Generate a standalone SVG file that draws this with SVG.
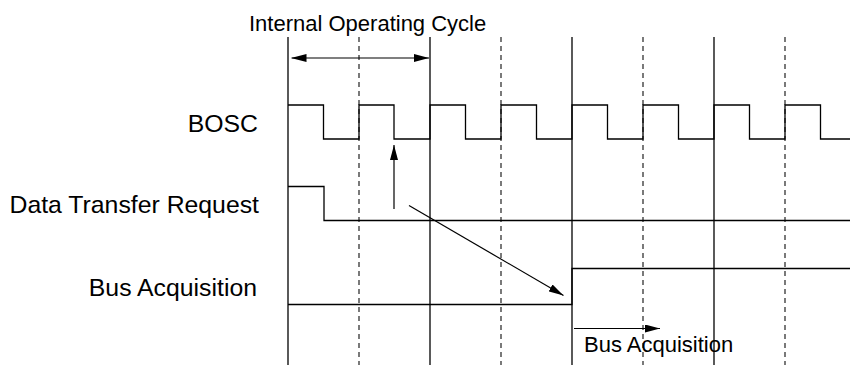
<svg xmlns="http://www.w3.org/2000/svg" width="850" height="365" viewBox="0 0 850 365">
  <style>
    .lbl { font-family: "Liberation Sans", Arial, sans-serif; fill: #000; }
    .big { font-size: 24.8px; text-anchor: end; }
    .small { font-size: 22px; }
    .solid { stroke: #000; stroke-width: 1.3; fill: none; }
    .dash { stroke: #333; stroke-width: 1.3; stroke-dasharray: 5 4; fill: none; }
    .wave { stroke: #000; stroke-width: 1.3; fill: none; }
    .arrow { stroke: #000; stroke-width: 1.2; fill: none; }
  </style>
  <defs>
    <marker id="ah" viewBox="0 0 15 8" refX="15" refY="4" markerWidth="15" markerHeight="8" markerUnits="userSpaceOnUse" orient="auto-start-reverse">
      <path d="M0,0 L15,4 L0,8 z" fill="#000"/>
    </marker>
  </defs>
  <rect width="850" height="365" fill="#fff"/>

  <g id="grid">
    <line class="solid" x1="288" y1="37" x2="288" y2="365"/>
    <line class="solid" x1="430" y1="37" x2="430" y2="365"/>
    <line class="solid" x1="572" y1="37" x2="572" y2="365"/>
    <line class="solid" x1="714" y1="37" x2="714" y2="365"/>
    <line class="dash" x1="359" y1="37" x2="359" y2="365"/>
    <line class="dash" x1="501" y1="37" x2="501" y2="365"/>
    <line class="dash" x1="643" y1="37" x2="643" y2="365"/>
    <line class="dash" x1="785" y1="37" x2="785" y2="365"/>
  </g>

  <g id="cycle">
    <text class="lbl small" x="249" y="31">Internal Operating Cycle</text>
  </g>

  <g id="bosc">
    <text class="lbl big" x="258" y="132">BOSC</text>
    <path class="wave" d="M288,105 H323.5 V139 H359 V105 H394 V139 H430 V105 H465.5 V139 H501 V105 H536.5 V139 H572 V105 H607.5 V139 H643 V105 H678.5 V139 H714 V105 H749.5 V139 H785 V105 H820.5 V139 H850"/>
  </g>

  <g id="dtr">
    <text class="lbl big" x="259" y="213">Data Transfer Request</text>
    <path class="wave" d="M288,186.5 H324 V220.5 H850"/>
  </g>

  <g id="busacq">
    <text class="lbl big" x="257" y="296">Bus Acquisition</text>
    <path class="wave" d="M288,304.5 H572 V268.5 H850"/>
  </g>

  <g id="busacq2">
    <text class="lbl small" x="584" y="352">Bus Acquisition</text>
  </g>

  <g id="connectors">
    <line class="arrow" stroke="#555" x1="291.5" y1="58" x2="429" y2="58" marker-start="url(#ah)" marker-end="url(#ah)"/>
    <line class="arrow" x1="394" y1="209" x2="394" y2="145" marker-end="url(#ah)"/>
    <line class="arrow" x1="409" y1="205.5" x2="563.5" y2="295.5" marker-end="url(#ah)"/>
    <line class="arrow" x1="574" y1="328.5" x2="660" y2="328.5" marker-end="url(#ah)"/>
  </g>
</svg>
